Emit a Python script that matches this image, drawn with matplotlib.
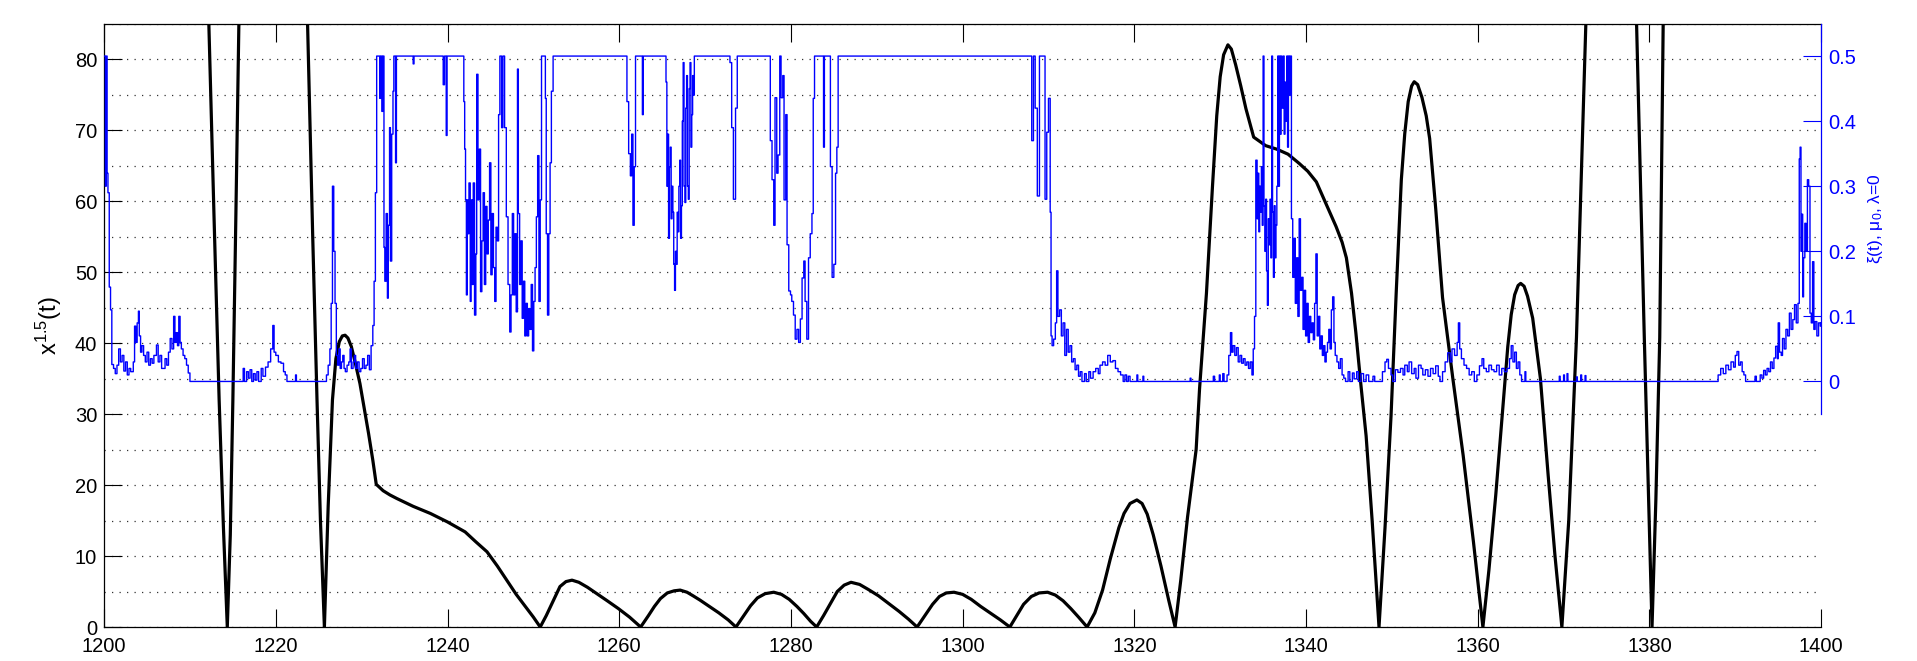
import numpy as np
import matplotlib
matplotlib.use("Agg")
import matplotlib.pyplot as plt

plt.rcParams['font.family'] = ['Liberation Sans', 'DejaVu Sans']
plt.rcParams['mathtext.fontset'] = 'custom'
plt.rcParams['mathtext.rm'] = 'Liberation Sans'
plt.rcParams['mathtext.it'] = 'Liberation Sans:italic'
plt.rcParams['mathtext.default'] = 'regular'

nan = np.nan

# x^1.5(t), black curve, (t, value); nan where the curve is far above the frame
x15_curve = [
    (1211.9, 95), (1212.2, 85), (1212.8, 58), (1213.4, 32), (1213.9, 14), (1214.35, 0),
    (1214.7, 13), (1215.0, 32), (1215.35, 58), (1215.7, 85), (1216.0, 100), (1219.0, nan),
    (1223.4, 100), (1223.7, 85), (1224.3, 55), (1224.8, 32), (1225.2, 15), (1225.66, 0),
    (1226.1, 17), (1226.6, 32), (1227.0, 37.8), (1227.4, 40.2), (1227.75, 41.0), (1228.07, 41.1),
    (1228.4, 40.7), (1228.8, 39.5), (1229.2, 37.5), (1229.8, 34.3), (1230.3, 30.8), (1230.8, 27.3),
    (1231.3, 23.5), (1231.7, 20.1), (1232.5, 19.2), (1233.3, 18.6), (1234.1, 18.1), (1236.0, 17.0),
    (1238.0, 16.0), (1240.0, 14.8), (1242.05, 13.4), (1243.3, 12.0), (1244.6, 10.6), (1245.8, 8.6),
    (1246.9, 6.6), (1248.0, 4.6), (1249.0, 3.0), (1250.0, 1.4), (1250.8, 0.0), (1251.5, 1.6),
    (1252.2, 3.4), (1253.1, 5.7), (1253.8, 6.4), (1254.5, 6.6), (1255.3, 6.3), (1256.3, 5.6),
    (1257.4, 4.7), (1258.6, 3.7), (1259.9, 2.6), (1261.2, 1.4), (1262.5, 0.0), (1263.4, 1.6),
    (1264.1, 2.9), (1264.8, 4.0), (1265.6, 4.8), (1266.4, 5.1), (1267.1, 5.2), (1267.9, 4.9),
    (1268.6, 4.4), (1269.4, 3.8), (1270.5, 2.9), (1271.6, 2.0), (1272.7, 1.0), (1273.6, 0.0),
    (1274.5, 1.6), (1275.3, 3.0), (1276.1, 4.1), (1277.0, 4.7), (1278.0, 4.9), (1278.9, 4.6),
    (1279.8, 3.9), (1280.7, 2.9), (1281.5, 1.9), (1282.3, 0.8), (1283.0, 0.0), (1283.8, 1.6),
    (1284.6, 3.3), (1285.4, 5.0), (1286.2, 5.9), (1287.0, 6.3), (1288.0, 6.0), (1289.0, 5.3),
    (1290.2, 4.4), (1291.4, 3.3), (1292.6, 2.2), (1293.7, 1.1), (1294.7, 0.0), (1295.6, 1.6),
    (1296.5, 3.2), (1297.3, 4.3), (1298.1, 4.8), (1299.0, 4.9), (1300.0, 4.6), (1301.0, 3.9),
    (1302.1, 2.9), (1303.2, 2.0), (1304.4, 1.0), (1305.5, 0.0), (1306.3, 1.6), (1307.1, 3.2),
    (1308.0, 4.3), (1308.9, 4.8), (1309.9, 4.9), (1310.8, 4.5), (1311.7, 3.7), (1312.6, 2.6),
    (1313.5, 1.4), (1314.5, 0.0), (1315.4, 2.0), (1316.3, 5.2), (1317.2, 9.6), (1318.2, 14.0),
    (1318.8, 16.0), (1319.5, 17.4), (1320.3, 17.9), (1320.9, 17.4), (1321.5, 15.9), (1322.2, 13.0),
    (1323.1, 8.6), (1324.0, 3.8), (1324.75, 0.0), (1325.4, 6.5), (1326.2, 15.5), (1327.2, 25.0),
    (1327.6, 33.6), (1328.4, 47), (1329.1, 62), (1329.6, 72), (1330.0, 77.5), (1330.4, 80.6),
    (1330.9, 82), (1331.3, 81.4), (1331.8, 79.2), (1332.4, 76.2), (1333.0, 73), (1333.9, 69.0),
    (1335.3, 67.8), (1336.6, 67.3), (1337.9, 66.6), (1339.2, 65.3), (1340.2, 64.2), (1341.2, 62.7),
    (1342.3, 59.7), (1343.5, 56.4), (1344.2, 54.2), (1344.7, 52.0), (1345.3, 47.0), (1345.8, 41.5),
    (1346.4, 34), (1347.0, 26.9), (1347.7, 15), (1348.5, 0), (1349.2, 14), (1349.9, 29.7),
    (1350.5, 47), (1351.1, 63), (1351.5, 69.5), (1351.9, 74.0), (1352.3, 76.2), (1352.6, 76.8),
    (1353.0, 76.4), (1353.5, 74.6), (1354.0, 72.0), (1354.4, 68.8), (1355.1, 59), (1355.9, 46.4),
    (1357.1, 35), (1358.3, 24.2), (1359.5, 12), (1360.6, 0), (1361.3, 8), (1362.1, 18.6),
    (1362.9, 30.5), (1363.5, 39.5), (1363.9, 44.0), (1364.3, 46.8), (1364.7, 48.1), (1365.0, 48.4),
    (1365.4, 48.0), (1365.8, 46.6), (1366.4, 43.5), (1367.3, 35), (1368.2, 21.4), (1369.0, 10),
    (1369.8, 0), (1370.6, 15), (1371.5, 40.8), (1372.6, 85.3), (1372.9, 95), (1375.0, nan),
    (1378.3, 95), (1378.5, 85), (1379.4, 40.8), (1379.9, 18), (1380.3, 0), (1380.75, 18),
    (1381.2, 40.8), (1381.6, 85), (1381.8, 95),
]

# xi(t), blue curve on the right axis, (t, value) held until the next t
xi_curve = [
    (1200.0, 0.50), (1200.15, 0.30), (1200.25, 0.50), (1200.35, 0.32), (1200.45, 0.29), (1200.6, 0.145),
    (1200.75, 0.11), (1200.9, 0.026), (1201.1, 0.02), (1201.3, 0.012), (1201.5, 0.025), (1201.7, 0.05),
    (1201.9, 0.03), (1202.1, 0.04), (1202.3, 0.016), (1202.5, 0.03), (1202.7, 0.01), (1202.9, 0.02),
    (1203.1, 0.015), (1203.4, 0.03), (1203.55, 0.085), (1203.7, 0.06), (1203.85, 0.09), (1204.0, 0.108),
    (1204.1, 0.07), (1204.25, 0.045), (1204.4, 0.055), (1204.6, 0.04), (1204.8, 0.03), (1205.0, 0.045),
    (1205.2, 0.025), (1205.4, 0.035), (1205.6, 0.028), (1205.8, 0.04), (1206.1, 0.056), (1206.3, 0.03),
    (1206.5, 0.04), (1206.7, 0.02), (1206.9, 0.02), (1207.1, 0.035), (1207.3, 0.025), (1207.5, 0.045),
    (1207.7, 0.066), (1207.9, 0.05), (1208.1, 0.10), (1208.25, 0.06), (1208.4, 0.075), (1208.55, 0.055),
    (1208.7, 0.10), (1208.85, 0.06), (1209.0, 0.05), (1209.2, 0.04), (1209.4, 0.035), (1209.6, 0.025),
    (1209.8, 0.013), (1210.0, 0.0),
    (1216.2, 0.02), (1216.35, 0.0), (1216.6, 0.015), (1216.8, 0.005), (1217.0, 0.018), (1217.2, 0.0),
    (1217.4, 0.012), (1217.6, 0.002), (1217.8, 0.015), (1218.0, 0.0), (1218.3, 0.02), (1218.5, 0.008),
    (1218.8, 0.022), (1219.1, 0.03), (1219.4, 0.05), (1219.65, 0.086), (1219.8, 0.045), (1220.0, 0.04),
    (1220.3, 0.03), (1220.6, 0.028), (1220.9, 0.015), (1221.1, 0.01), (1221.3, 0.0), (1222.3, 0.01),
    (1222.4, 0.0),
    (1225.9, 0.01), (1226.1, 0.025), (1226.3, 0.05), (1226.45, 0.12), (1226.6, 0.30), (1226.75, 0.20),
    (1226.9, 0.12), (1227.05, 0.04), (1227.2, 0.025), (1227.35, 0.05), (1227.5, 0.02), (1227.65, 0.03),
    (1227.8, 0.04), (1227.95, 0.02), (1228.1, 0.015), (1228.3, 0.025), (1228.5, 0.03), (1228.65, 0.05),
    (1228.8, 0.02), (1229.0, 0.03), (1229.15, 0.04), (1229.3, 0.02), (1229.5, 0.03), (1229.7, 0.015),
    (1229.9, 0.02), (1230.1, 0.035), (1230.3, 0.02), (1230.5, 0.025), (1230.7, 0.04), (1230.9, 0.018),
    (1231.1, 0.055), (1231.3, 0.086), (1231.45, 0.154), (1231.6, 0.29),
    (1231.75, 0.5), (1232.1, 0.435), (1232.2, 0.5), (1232.35, 0.415), (1232.45, 0.5), (1232.6, 0.206),
    (1232.7, 0.154), (1232.85, 0.258), (1233.0, 0.128), (1233.1, 0.24), (1233.25, 0.39), (1233.35, 0.185),
    (1233.5, 0.38), (1233.65, 0.446), (1233.75, 0.5), (1233.95, 0.336), (1234.05, 0.5), (1236.0, 0.488),
    (1236.1, 0.5), (1239.5, 0.456), (1239.65, 0.5), (1239.85, 0.378), (1239.95, 0.5),
    (1241.9, 0.43), (1242.0, 0.357), (1242.1, 0.279), (1242.2, 0.133), (1242.3, 0.279), (1242.4, 0.227),
    (1242.5, 0.305), (1242.65, 0.123), (1242.75, 0.279), (1242.9, 0.149), (1243.0, 0.305), (1243.15, 0.102),
    (1243.3, 0.196), (1243.4, 0.472), (1243.55, 0.279), (1243.7, 0.357), (1243.85, 0.138), (1244.0, 0.216),
    (1244.15, 0.29), (1244.3, 0.149), (1244.45, 0.269), (1244.6, 0.196), (1244.75, 0.248), (1244.9, 0.336),
    (1245.05, 0.164), (1245.2, 0.258), (1245.35, 0.175), (1245.5, 0.123), (1245.65, 0.237), (1245.8, 0.216),
    (1245.95, 0.41), (1246.1, 0.5), (1246.3, 0.39), (1246.45, 0.5), (1246.65, 0.39), (1246.85, 0.253),
    (1247.05, 0.149), (1247.25, 0.076), (1247.4, 0.133), (1247.55, 0.258), (1247.7, 0.133), (1247.85, 0.227),
    (1248.0, 0.107), (1248.15, 0.48), (1248.25, 0.258), (1248.4, 0.149), (1248.55, 0.216), (1248.7, 0.097),
    (1248.85, 0.154), (1249.0, 0.07), (1249.15, 0.12), (1249.3, 0.07), (1249.45, 0.112), (1249.6, 0.08),
    (1249.75, 0.149), (1249.9, 0.047), (1250.05, 0.123), (1250.2, 0.175), (1250.35, 0.253), (1250.5, 0.347),
    (1250.65, 0.123), (1250.8, 0.279), (1250.95, 0.5), (1251.4, 0.435), (1251.5, 0.227), (1251.65, 0.102),
    (1251.8, 0.227), (1251.95, 0.336), (1252.1, 0.446), (1252.3, 0.5),
    (1260.9, 0.43), (1261.1, 0.35), (1261.3, 0.316), (1261.45, 0.38), (1261.6, 0.24), (1261.75, 0.33),
    (1261.9, 0.5), (1262.7, 0.41), (1262.8, 0.5),
    (1265.35, 0.5), (1265.45, 0.46), (1265.55, 0.30), (1265.65, 0.38), (1265.75, 0.22), (1265.85, 0.33),
    (1265.95, 0.36), (1266.05, 0.25), (1266.15, 0.30), (1266.25, 0.26), (1266.35, 0.18), (1266.45, 0.14),
    (1266.55, 0.20), (1266.65, 0.18), (1266.75, 0.26), (1266.85, 0.23), (1266.95, 0.30), (1267.05, 0.34),
    (1267.15, 0.22), (1267.25, 0.27), (1267.35, 0.40), (1267.45, 0.49), (1267.55, 0.30), (1267.65, 0.275),
    (1267.75, 0.42), (1267.85, 0.47), (1267.95, 0.30), (1268.05, 0.28), (1268.15, 0.45), (1268.25, 0.49),
    (1268.35, 0.36), (1268.45, 0.41), (1268.55, 0.47), (1268.65, 0.44), (1268.75, 0.5),
    (1272.9, 0.49), (1273.1, 0.39), (1273.3, 0.28), (1273.55, 0.42), (1273.75, 0.5),
    (1277.6, 0.37), (1277.8, 0.31), (1278.0, 0.24), (1278.15, 0.436), (1278.35, 0.32), (1278.5, 0.348),
    (1278.7, 0.5), (1278.85, 0.436), (1279.05, 0.47), (1279.2, 0.279), (1279.4, 0.41), (1279.55, 0.21),
    (1279.75, 0.139), (1279.95, 0.133), (1280.1, 0.123), (1280.3, 0.102), (1280.5, 0.065), (1280.7, 0.08),
    (1280.9, 0.06), (1281.1, 0.096), (1281.3, 0.159), (1281.5, 0.185), (1281.65, 0.123), (1281.85, 0.065),
    (1282.05, 0.19), (1282.25, 0.227), (1282.45, 0.258), (1282.6, 0.435), (1282.75, 0.5), (1283.8, 0.36),
    (1283.9, 0.5), (1284.6, 0.33), (1284.8, 0.16), (1285.0, 0.18), (1285.2, 0.32), (1285.35, 0.36),
    (1285.5, 0.5),
    (1308.05, 0.37), (1308.25, 0.5), (1308.45, 0.42), (1308.7, 0.285), (1308.95, 0.5), (1309.6, 0.28),
    (1309.8, 0.383), (1310.0, 0.435), (1310.2, 0.26), (1310.3, 0.07), (1310.42, 0.055), (1310.6, 0.065),
    (1310.8, 0.09), (1310.95, 0.17), (1311.1, 0.10), (1311.3, 0.11), (1311.5, 0.07), (1311.7, 0.09),
    (1311.9, 0.04), (1312.1, 0.08), (1312.3, 0.045), (1312.5, 0.055), (1312.7, 0.03), (1312.9, 0.035),
    (1313.1, 0.018), (1313.3, 0.025), (1313.5, 0.008), (1313.7, 0.015), (1313.9, 0.0), (1314.2, 0.012),
    (1314.4, 0.0), (1314.7, 0.015), (1314.9, 0.005), (1315.2, 0.015), (1315.5, 0.02), (1315.8, 0.012),
    (1316.0, 0.025), (1316.3, 0.03), (1316.6, 0.025), (1316.9, 0.04), (1317.2, 0.03), (1317.5, 0.032),
    (1317.8, 0.02), (1318.1, 0.015), (1318.4, 0.01), (1318.7, 0.0), (1318.9, 0.01), (1319.1, 0.0),
    (1319.3, 0.008), (1319.5, 0.0), (1320.3, 0.01), (1320.4, 0.0), (1321.0, 0.008), (1321.1, 0.0),
    (1326.5, 0.005), (1326.6, 0.0), (1329.2, 0.008), (1329.35, 0.0), (1329.9, 0.01), (1330.0, 0.0),
    (1330.3, 0.012), (1330.45, 0.0),
    (1330.8, 0.01), (1331.0, 0.04), (1331.2, 0.075), (1331.35, 0.045), (1331.5, 0.055), (1331.7, 0.04),
    (1331.9, 0.052), (1332.1, 0.03), (1332.3, 0.04), (1332.5, 0.028), (1332.7, 0.035), (1332.9, 0.025),
    (1333.1, 0.03), (1333.3, 0.02), (1333.5, 0.03), (1333.7, 0.01), (1333.85, 0.05), (1334.0, 0.10),
    (1334.15, 0.34), (1334.3, 0.25), (1334.4, 0.32), (1334.5, 0.23), (1334.6, 0.30), (1334.7, 0.26),
    (1334.8, 0.33), (1334.9, 0.24), (1335.0, 0.5), (1335.1, 0.27), (1335.2, 0.20), (1335.3, 0.28),
    (1335.4, 0.17), (1335.5, 0.117), (1335.6, 0.25), (1335.7, 0.21), (1335.8, 0.28), (1335.9, 0.19),
    (1336.0, 0.5), (1336.1, 0.26), (1336.2, 0.16), (1336.3, 0.27), (1336.4, 0.19), (1336.5, 0.24),
    (1336.6, 0.30), (1336.7, 0.5), (1336.8, 0.30), (1336.9, 0.5), (1337.0, 0.38), (1337.1, 0.5),
    (1337.2, 0.42), (1337.35, 0.5), (1337.45, 0.38), (1337.55, 0.46), (1337.65, 0.40), (1337.75, 0.5),
    (1337.85, 0.36), (1337.95, 0.5), (1338.05, 0.44), (1338.15, 0.5), (1338.3, 0.25), (1338.45, 0.16),
    (1338.6, 0.22), (1338.75, 0.12), (1338.9, 0.19), (1339.05, 0.10), (1339.2, 0.25), (1339.35, 0.14),
    (1339.5, 0.16), (1339.65, 0.08), (1339.8, 0.14), (1339.95, 0.07), (1340.1, 0.12), (1340.25, 0.06),
    (1340.4, 0.10), (1340.55, 0.075), (1340.7, 0.09), (1340.85, 0.064), (1341.0, 0.12), (1341.15, 0.196),
    (1341.3, 0.07), (1341.45, 0.10), (1341.6, 0.05), (1341.75, 0.07), (1341.9, 0.04), (1342.05, 0.055),
    (1342.2, 0.03), (1342.35, 0.045), (1342.5, 0.06), (1342.65, 0.08), (1342.8, 0.05), (1342.95, 0.11),
    (1343.1, 0.13), (1343.25, 0.06), (1343.4, 0.04), (1343.6, 0.03), (1343.8, 0.02), (1344.0, 0.035),
    (1344.2, 0.01), (1344.4, 0.005), (1344.6, 0.0),
    (1344.9, 0.015), (1345.1, 0.0), (1345.4, 0.013), (1345.6, 0.004), (1345.9, 0.015), (1346.1, 0.0),
    (1346.4, 0.012), (1346.7, 0.0), (1347.0, 0.01), (1347.3, 0.0), (1347.8, 0.008), (1348.0, 0.0),
    (1348.9, 0.015), (1349.2, 0.03), (1349.4, 0.034), (1349.6, 0.02), (1349.9, 0.01), (1350.1, 0.0),
    (1350.4, 0.018), (1350.7, 0.014), (1351.0, 0.02), (1351.3, 0.01), (1351.5, 0.025), (1351.8, 0.015),
    (1352.0, 0.03), (1352.3, 0.012), (1352.6, 0.02), (1352.8, 0.005), (1353.1, 0.025), (1353.4, 0.02),
    (1353.6, 0.01), (1353.9, 0.018), (1354.2, 0.008), (1354.5, 0.02), (1354.8, 0.012), (1355.1, 0.024),
    (1355.4, 0.008), (1355.6, 0.0), (1355.9, 0.015), (1356.2, 0.03), (1356.5, 0.044), (1356.8, 0.03),
    (1357.0, 0.05), (1357.3, 0.04), (1357.6, 0.06), (1357.75, 0.09), (1357.9, 0.05), (1358.1, 0.035),
    (1358.4, 0.025), (1358.7, 0.02), (1359.0, 0.01), (1359.3, 0.015), (1359.6, 0.0), (1359.9, 0.01),
    (1360.2, 0.024), (1360.5, 0.035), (1360.7, 0.02), (1361.0, 0.015), (1361.3, 0.025), (1361.6, 0.018),
    (1361.9, 0.015), (1362.2, 0.025), (1362.5, 0.01), (1362.8, 0.02), (1363.1, 0.015), (1363.4, 0.02),
    (1363.7, 0.035), (1363.9, 0.055), (1364.1, 0.03), (1364.3, 0.045), (1364.5, 0.02), (1364.7, 0.03),
    (1364.9, 0.01), (1365.1, 0.0), (1365.5, 0.015), (1365.6, 0.0), (1369.5, 0.008), (1369.6, 0.0),
    (1370.0, 0.01), (1370.1, 0.0), (1370.4, 0.012), (1370.5, 0.0), (1371.5, 0.007), (1371.6, 0.0),
    (1372.0, 0.01), (1372.1, 0.0), (1372.5, 0.009), (1372.6, 0.0),
    (1388.0, 0.01), (1388.3, 0.02), (1388.6, 0.012), (1388.9, 0.025), (1389.2, 0.018), (1389.5, 0.03),
    (1389.8, 0.022), (1390.0, 0.04), (1390.2, 0.046), (1390.4, 0.025), (1390.6, 0.03), (1390.8, 0.015),
    (1391.0, 0.01), (1391.2, 0.0), (1392.3, 0.008), (1392.45, 0.0), (1392.9, 0.01), (1393.1, 0.005),
    (1393.3, 0.017), (1393.5, 0.01), (1393.7, 0.02), (1393.9, 0.015), (1394.1, 0.03), (1394.3, 0.02),
    (1394.5, 0.036), (1394.7, 0.054), (1394.9, 0.035), (1395.0, 0.09), (1395.15, 0.045), (1395.35, 0.04),
    (1395.5, 0.066), (1395.7, 0.05), (1395.9, 0.08), (1396.1, 0.07), (1396.3, 0.105), (1396.5, 0.08),
    (1396.7, 0.095), (1396.9, 0.118), (1397.1, 0.09), (1397.3, 0.12), (1397.45, 0.342), (1397.55, 0.36),
    (1397.65, 0.20), (1397.75, 0.257), (1397.85, 0.13), (1397.95, 0.19), (1398.1, 0.243), (1398.25, 0.20),
    (1398.4, 0.31), (1398.55, 0.30), (1398.7, 0.105), (1398.85, 0.09), (1399.0, 0.184), (1399.15, 0.08),
    (1399.3, 0.092), (1399.5, 0.07), (1399.7, 0.09), (1399.9, 0.085), (1400.0, 0.09),
]

t_ticks = list(range(1200, 1401, 20))
x_ticks = list(range(0, 81, 10))
x_grid = list(range(0, 86, 5))
xi_ticks = [0, 0.1, 0.2, 0.3, 0.4, 0.5]
xi_ticklabels = ['0', '0.1', '0.2', '0.3', '0.4', '0.5']

fig = plt.figure(figsize=(19.17, 6.61), dpi=100)

# main axes: x^1.5(t)
ax = fig.add_axes([0.0543, 0.0514, 0.8957, 0.913])
t1, v1 = zip(*x15_curve)
ax.plot(t1, v1, color='black', lw=2.3, solid_joinstyle='round', zorder=3)
ax.set_xlim(1200, 1400)
ax.set_ylim(0, 85)
ax.set_xticks(t_ticks)
ax.set_yticks(x_ticks)
ax.set_yticks(x_grid, minor=True)
ax.grid(axis='y', which='both', color='0.2', lw=0.9, ls=(0, (1, 5)))
ax.set_axisbelow(True)
ax.tick_params(which='major', direction='in', length=13, width=0.8,
               top=True, right=False, labelsize=14.5, pad=5)
ax.tick_params(axis='x', which='major', pad=7)
ax.tick_params(which='minor', length=0)
ax.spines['right'].set_visible(False)
for s in ('left', 'bottom', 'top'):
    ax.spines[s].set_linewidth(0.9)
ax.set_ylabel('x$^{1.5}$(t)', fontsize=17, labelpad=8)

# right axes: xi(t)
ax2 = fig.add_axes([0.0543, 0.3737, 0.8957, 0.5907])
ax2.patch.set_visible(False)
t2, v2 = zip(*xi_curve)
ax2.plot(t2, v2, color='#0000ff', lw=1.0, drawstyle='steps-post')
ax2.set_xlim(1200, 1400)
ax2.set_ylim(-0.05, 0.55)
ax2.set_xticks([])
ax2.set_yticks(xi_ticks)
ax2.set_yticklabels(xi_ticklabels)
ax2.yaxis.tick_right()
ax2.yaxis.set_label_position('right')
ax2.tick_params(axis='y', direction='in', length=13, width=0.8, color='#0000ff',
                labelcolor='#0000ff', labelsize=14.5, pad=5)
for s in ('left', 'top', 'bottom'):
    ax2.spines[s].set_visible(False)
ax2.spines['right'].set_color('#0000ff')
ax2.spines['right'].set_linewidth(0.9)
ax2.set_ylabel('ξ(t), μ$_0$, λ=0', color='#0000ff', fontsize=12.5, labelpad=8)

fig.savefig('out.png', dpi=100)
